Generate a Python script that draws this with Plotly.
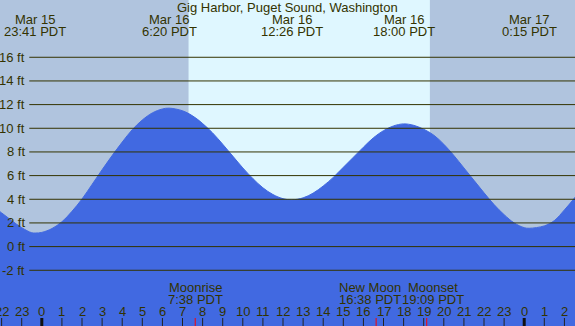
import plotly.graph_objects as go

# ---------------- data ----------------
title_text = "Gig Harbor, Puget Sound, Washington"

# hours relative to Mar 16 00:00 PDT, heights in ft
tide_hours = [-2.5, -2.0, -1.5, -1.0, -0.5, -0.3, 0.0, 0.5, 1.0, 1.5, 2.0, 2.5, 3.0, 3.5,
              4.0, 4.5, 5.0, 5.5, 6.0, 6.33, 7.0, 7.5, 8.0, 8.5, 9.0, 9.5, 10.0, 10.5,
              11.0, 11.5, 12.0, 12.43, 13.0, 13.5, 14.0, 14.5, 15.0, 15.5, 16.0, 16.5,
              17.0, 17.5, 18.0, 18.5, 19.0, 19.5, 20.0, 20.5, 21.0, 21.5, 22.0, 22.5,
              23.0, 23.5, 24.0, 24.25, 25.0, 25.5, 26.0, 26.5, 27.0]
tide_ft = [3.5, 2.85, 2.2, 1.6, 1.17, 1.15, 1.2, 1.52, 2.1, 2.98, 4.02, 5.25, 6.5, 7.7,
           8.83, 9.88, 10.7, 11.3, 11.63, 11.7, 11.48, 11.05, 10.4, 9.6, 8.65, 7.65, 6.65, 5.75,
           4.97, 4.4, 4.05, 3.95, 4.12, 4.52, 5.12, 5.85, 6.7, 7.55, 8.4, 9.2,
           9.8, 10.2, 10.37, 10.25, 9.92, 9.42, 8.65, 7.7, 6.65, 5.6, 4.55, 3.55,
           2.7, 2.0, 1.6, 1.55, 1.75, 2.2, 3.1, 4.1, 5.2]

extreme_dates = ["Mar 15", "Mar 16", "Mar 16", "Mar 16", "Mar 17"]
extreme_times = ["23:41 PDT", "6:20 PDT", "12:26 PDT", "18:00 PDT", "0:15 PDT"]
extreme_hours = [-0.317, 6.333, 12.433, 18.0, 24.25]

sunrise_hour = 7.30
sunset_hour = 19.31

moon_names = ["Moonrise", "New Moon", "Moonset"]
moon_times = ["7:38 PDT", "16:38 PDT", "19:09 PDT"]
moon_hours = [7.633, 16.633, 19.15]

grid_levels = [-2, 0, 2, 4, 6, 8, 10, 12, 14, 16]
grid_labels = ["-2 ft", "0 ft", "2 ft", "4 ft", "6 ft", "8 ft", "10 ft", "12 ft", "14 ft", "16 ft"]

hour_ticks = list(range(-2, 27))
hour_labels = [str(h % 24) for h in hour_ticks]

# ---------------- style ----------------
W, H = 575, 326
X_RANGE = [-2.080, 26.527]
Y_RANGE = [-6.71, 20.84]
NIGHT = "#B0C4DE"
DAY = "#DFF7FF"
WATER = "#4169E1"
INK = "#333300"
FONT = dict(family="Liberation Sans, Arial, sans-serif", size=13, color=INK)


def py(px):
    """pixel row -> paper y"""
    return 1 - px / H


fig = go.Figure()

# base for filling
fig.add_trace(go.Scatter(x=[tide_hours[0], tide_hours[-1]], y=[Y_RANGE[0] - 2, Y_RANGE[0] - 2],
                         mode="lines", line=dict(width=0, color=WATER), hoverinfo="skip",
                         showlegend=False))
fig.add_trace(go.Scatter(x=tide_hours, y=tide_ft, mode="lines", fill="tonexty",
                         fillcolor=WATER, line=dict(color=WATER, width=1, shape="spline",
                                                     smoothing=1.0),
                         hoverinfo="skip", showlegend=False))

shapes = []
# night / day backgrounds
shapes.append(dict(type="rect", xref="x", yref="paper", x0=X_RANGE[0] - 1, x1=sunrise_hour,
                   y0=0, y1=1, fillcolor=NIGHT, line=dict(width=0), layer="below"))
shapes.append(dict(type="rect", xref="x", yref="paper", x0=sunrise_hour, x1=sunset_hour,
                   y0=0, y1=1, fillcolor=DAY, line=dict(width=0), layer="below"))
shapes.append(dict(type="rect", xref="x", yref="paper", x0=sunset_hour, x1=X_RANGE[1] + 1,
                   y0=0, y1=1, fillcolor=NIGHT, line=dict(width=0), layer="below"))

# grid lines
for lv in grid_levels:
    shapes.append(dict(type="line", xref="paper", yref="y", x0=29.3 / W, x1=1, y0=lv, y1=lv,
                       line=dict(color=INK, width=1), layer="above"))

# hour ticks
for h in hour_ticks:
    midnight = (h % 24 == 0)
    shapes.append(dict(type="line", xref="x", yref="paper", x0=h, x1=h, y0=0, y1=8 / H,
                       line=dict(color="#111111" if midnight else "#222222",
                                 width=3 if midnight else 1), layer="above"))
# moon event ticks
for mh in moon_hours:
    shapes.append(dict(type="line", xref="x", yref="paper", x0=mh, x1=mh, y0=0, y1=8 / H,
                       line=dict(color="#FF0000", width=1), layer="above"))

annotations = []
# title
annotations.append(dict(text=title_text, xref="paper", yref="paper", x=0.5, y=py(7.7),
                        xanchor="center", yanchor="middle", showarrow=False, font=FONT))
# extremes
for d, t, h in zip(extreme_dates, extreme_times, extreme_hours):
    annotations.append(dict(text=d, xref="x", yref="paper", x=h, y=py(19.5),
                            xanchor="center", yanchor="middle", showarrow=False, font=FONT))
    annotations.append(dict(text=t, xref="x", yref="paper", x=h, y=py(31.7),
                            xanchor="center", yanchor="middle", showarrow=False, font=FONT))
# grid labels
for lv, lab in zip(grid_levels, grid_labels):
    annotations.append(dict(text=lab, xref="paper", yref="y", x=27 / W, y=lv,
                            xanchor="right", yanchor="middle", showarrow=False, font=FONT))
# hour labels
for h, lab in zip(hour_ticks, hour_labels):
    annotations.append(dict(text=lab, xref="x", yref="paper", x=h, y=py(311.7),
                            xanchor="center", yanchor="middle", showarrow=False, font=FONT))
# moon labels
moon_shift = [0, -6, 6]
for n, t, h, s in zip(moon_names, moon_times, moon_hours, moon_shift):
    annotations.append(dict(text=n, xref="x", yref="paper", x=h, y=py(287.5), xshift=s,
                            xanchor="center", yanchor="middle", showarrow=False, font=FONT))
    annotations.append(dict(text=t, xref="x", yref="paper", x=h, y=py(299.5), xshift=s,
                            xanchor="center", yanchor="middle", showarrow=False, font=FONT))

fig.update_layout(
    width=W, height=H,
    margin=dict(l=0, r=0, t=0, b=0, pad=0),
    paper_bgcolor=NIGHT, plot_bgcolor="rgba(0,0,0,0)",
    xaxis=dict(range=X_RANGE, visible=False, showgrid=False, zeroline=False, fixedrange=True),
    yaxis=dict(range=Y_RANGE, visible=False, showgrid=False, zeroline=False, fixedrange=True),
    shapes=shapes, annotations=annotations, showlegend=False,
)

fig.write_html("out.html", config=dict(displayModeBar=False),
               post_script="document.body.style.margin='0';document.body.style.overflow='hidden';")
